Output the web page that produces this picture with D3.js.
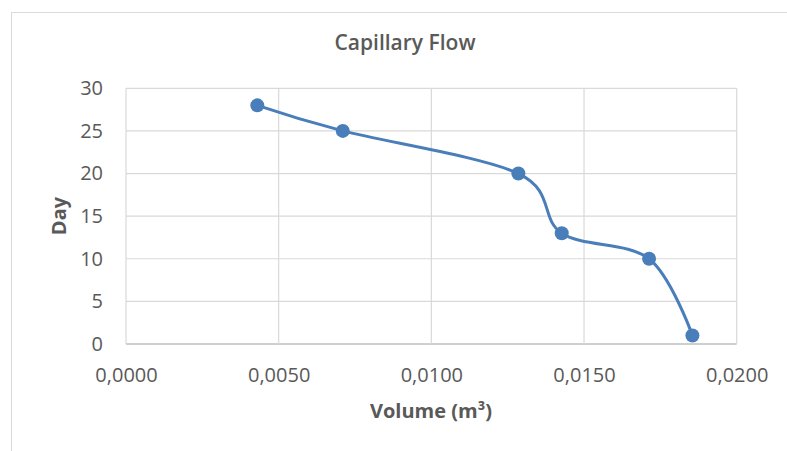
<!DOCTYPE html>
<html>
<head>
<meta charset="utf-8">
<script src="https://cdn.jsdelivr.net/npm/d3@7"></script>
<style>
  body { margin: 0; background: #fff; }
  text { font-family: "Open Sans", "Noto Sans", sans-serif; fill: #595959; }
</style>
</head>
<body>
<div class="chart"></div>
<script>
const volumes = [0.0043, 0.0071, 0.01285, 0.01427, 0.01713, 0.01855];
const days = [28, 25, 20, 13, 10, 1];
const xTicks = [0, 0.005, 0.01, 0.015, 0.02];
const yTicks = [0, 5, 10, 15, 20, 25, 30];

const data = volumes.map((v, i) => ({ volume: v, day: days[i] }));

const width = 787;
const height = 451;
const margin = { top: 88.3, right: 50.3, bottom: 107, left: 126 };
const innerW = width - margin.left - margin.right;
const innerH = height - margin.top - margin.bottom;

const svg = d3
  .select('.chart')
  .append('svg')
  .attr('width', width)
  .attr('height', height);

// chart area border
svg
  .append('rect')
  .attr('x', 11.5)
  .attr('y', 12.5)
  .attr('width', width + 10)
  .attr('height', height + 10)
  .attr('fill', 'none')
  .attr('stroke', '#d9d9d9');

const group = svg
  .append('g')
  .attr('transform', 'translate(' + margin.left + ',' + margin.top + ')');

const xScale = d3.scaleLinear().domain([0, 0.02]).range([0, innerW]);
const yScale = d3.scaleLinear().domain([0, 30]).range([innerH, 0]);

const fmtX = (d) => d.toFixed(4).replace('.', ',');

// gridlines
group
  .selectAll('.hgrid')
  .data(yTicks)
  .join('line')
  .attr('x1', 0)
  .attr('x2', innerW)
  .attr('y1', (d) => yScale(d))
  .attr('y2', (d) => yScale(d))
  .attr('stroke', (d) => (d === 0 ? '#bfbfbf' : '#d9d9d9'))
  .attr('stroke-width', (d) => (d === 0 ? 1.5 : 1.2));

group
  .selectAll('.vgrid')
  .data(xTicks)
  .join('line')
  .attr('x1', (d) => xScale(d))
  .attr('x2', (d) => xScale(d))
  .attr('y1', 0)
  .attr('y2', innerH)
  .attr('stroke', '#d9d9d9')
  .attr('stroke-width', 1.2);

// x axis labels
const xAxis = d3.axisBottom(xScale).tickValues(xTicks).tickFormat(fmtX).tickSize(0).tickPadding(24);
const xg = group.append('g').attr('transform', `translate(0, ${innerH})`).call(xAxis);
xg.select('.domain').remove();
xg.selectAll('text').attr('font-size', '20px').attr('fill', '#595959');

// y axis labels
const yAxis = d3.axisLeft(yScale).tickValues(yTicks).tickSize(0).tickPadding(23);
const yg = group.append('g').call(yAxis);
yg.select('.domain').remove();
yg.selectAll('text').attr('font-size', '20px').attr('fill', '#595959');

// smoothed line
const line = d3
  .line()
  .x((d) => xScale(d.volume))
  .y((d) => yScale(d.day))
  .curve(d3.curveCatmullRom.alpha(0));

group
  .append('path')
  .datum(data)
  .attr('d', line)
  .attr('fill', 'none')
  .attr('stroke', '#4a7ebb')
  .attr('stroke-width', 3);

group
  .selectAll('circle')
  .data(data)
  .join('circle')
  .attr('cx', (d) => xScale(d.volume))
  .attr('cy', (d) => yScale(d.day))
  .attr('r', 7)
  .attr('fill', '#4a7ebb');

// title
svg
  .append('text')
  .attr('x', 405)
  .attr('y', 50)
  .attr('text-anchor', 'middle')
  .attr('font-size', '21px')
  .attr('font-weight', 600)
  .text('Capillary Flow');

// axis titles
svg
  .append('text')
  .attr('x', 431)
  .attr('y', 418)
  .attr('text-anchor', 'middle')
  .attr('font-size', '20px')
  .attr('font-weight', 'bold')
  .text('Volume (m³)');

svg
  .append('text')
  .attr('transform', 'translate(66, 216) rotate(-90)')
  .attr('text-anchor', 'middle')
  .attr('font-size', '20px')
  .attr('font-weight', 'bold')
  .text('Day');
</script>
</body>
</html>
